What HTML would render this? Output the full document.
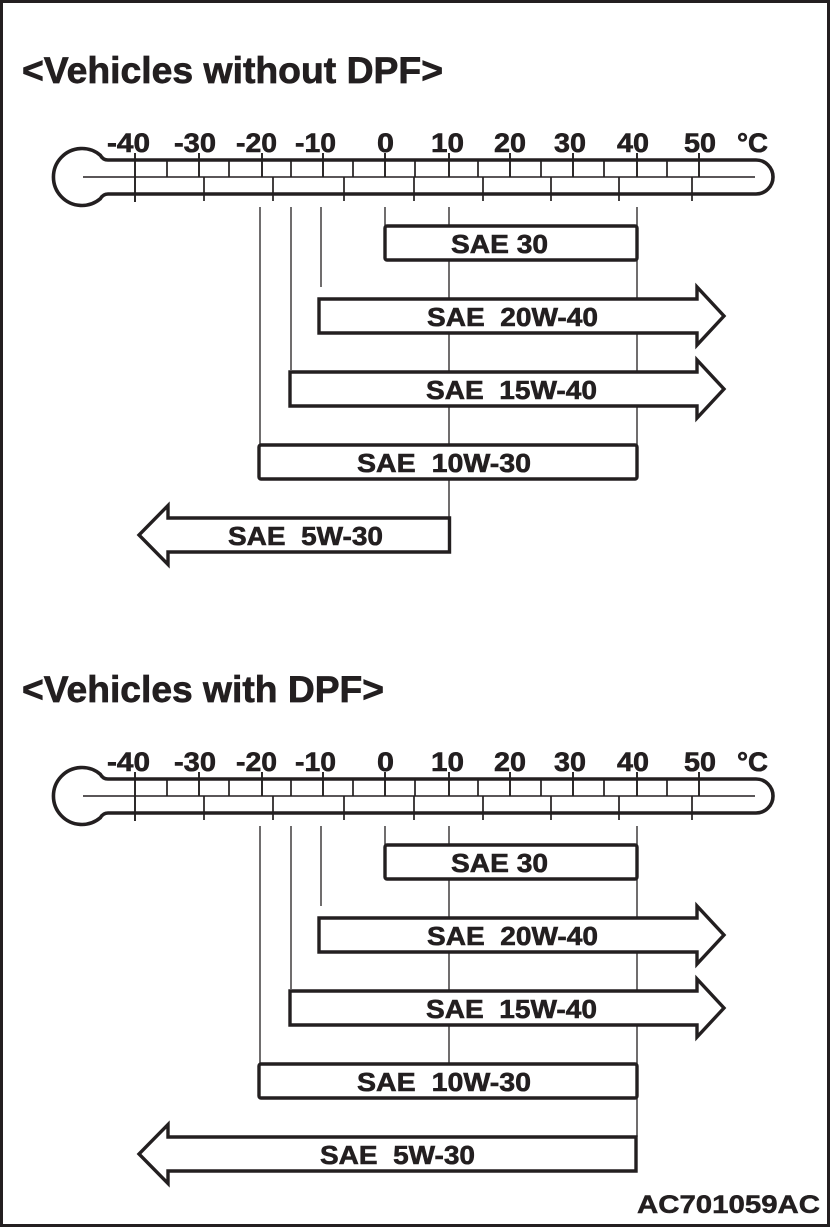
<!DOCTYPE html>
<html>
<head>
<meta charset="utf-8">
<style>
html,body{margin:0;padding:0;background:#fff;}
svg{display:block;}
text{white-space:pre;}
</style>
</head>
<body>
<svg width="831" height="1228" viewBox="0 0 831 1228" xmlns="http://www.w3.org/2000/svg" font-family="'Liberation Sans', Arial, sans-serif" font-weight="bold">
<rect x="0" y="0" width="831" height="1228" fill="#fff"/>
<rect x="1.5" y="1.5" width="827" height="1224" fill="none" stroke="#231f20" stroke-width="3"/>

<!-- ===== Section 1 ===== -->
<g>
  <text x="22" y="83" font-size="37" fill="#231f20" stroke="#231f20" stroke-width="0.7" textLength="421" lengthAdjust="spacingAndGlyphs">&lt;Vehicles without DPF&gt;</text>

  <!-- thermometer -->
  <path d="M108 160H756A17 17 0 0 1 756 194H108Q103 194 100.3 198.8A28.5 28.5 0 1 1 100.3 155.2Q103 160 108 160Z" fill="none" stroke="#231f20" stroke-width="3.6"/>
  <path d="M83 177H755" stroke="#231f20" stroke-width="1.4" fill="none"/>
  <path d="M135 153V202M199 153V177M262 153V177M323 153V177M385 153V177M449 153V177M510 153V177M573 153V177M637 153V177M699 153V177" stroke="#231f20" stroke-width="1.9" fill="none"/>
  <path d="M167 160V177M229 160V177M291 160V177M353 160V177M415 160V177M478 160V177M541 160V177M604 160V177M667 160V177" stroke="#231f20" stroke-width="1.7" fill="none"/>
  <path d="M204 177V201M273 177V201M344 177V201M414 177V201M483 177V201M551 177V201M619 177V201M692 177V201" stroke="#231f20" stroke-width="1.7" fill="none"/>

  <g font-size="27" fill="#231f20" stroke="#231f20" stroke-width="0.6">
    <text x="107" y="152" textLength="43" lengthAdjust="spacingAndGlyphs">-40</text>
    <text x="174" y="152" textLength="42" lengthAdjust="spacingAndGlyphs">-30</text>
    <text x="236" y="152" textLength="41" lengthAdjust="spacingAndGlyphs">-20</text>
    <text x="295" y="152" textLength="41" lengthAdjust="spacingAndGlyphs">-10</text>
    <text x="377" y="152" textLength="17" lengthAdjust="spacingAndGlyphs">0</text>
    <text x="431" y="152" textLength="33" lengthAdjust="spacingAndGlyphs">10</text>
    <text x="494" y="152" textLength="32" lengthAdjust="spacingAndGlyphs">20</text>
    <text x="554" y="152" textLength="32" lengthAdjust="spacingAndGlyphs">30</text>
    <text x="617" y="152" textLength="32" lengthAdjust="spacingAndGlyphs">40</text>
    <text x="684" y="152" textLength="32" lengthAdjust="spacingAndGlyphs">50</text>
    <text x="737" y="152" textLength="31" lengthAdjust="spacingAndGlyphs">°C</text>
  </g>

  <!-- guide lines -->
  <path d="M260 207V445M291 207V370M321 207V287M385 207V226M449 207V226M449 260V299M449 333V372M449 406V445M449 479V518M637 207V226M637 260V299M637 333V372M637 406V445" stroke="#231f20" stroke-width="1.3" fill="none"/>

  <!-- bars -->
  <g fill="#fff" stroke="#231f20" stroke-width="3.4" stroke-linejoin="round">
    <rect x="385" y="226" width="252" height="34" rx="2"/>
    <path d="M319 299H697V287L724 316L697 345V333H319Z" stroke-linejoin="miter"/>
    <path d="M290 372H697V360L724 389L697 418V406H290Z" stroke-linejoin="miter"/>
    <rect x="259" y="445" width="378" height="34" rx="2"/>
    <path d="M449.5 518V552H168V564.5L139 535L168 505.5V518Z" stroke-linejoin="miter"/>
  </g>

  <g font-size="26" fill="#231f20" stroke="#231f20" stroke-width="0.6">
    <text x="451" y="253" textLength="97" lengthAdjust="spacingAndGlyphs">SAE 30</text>
    <text x="427" y="326" textLength="171" lengthAdjust="spacingAndGlyphs">SAE  20W-40</text>
    <text x="426" y="399" textLength="171" lengthAdjust="spacingAndGlyphs">SAE  15W-40</text>
    <text x="357" y="472" textLength="174" lengthAdjust="spacingAndGlyphs">SAE  10W-30</text>
    <text x="228" y="545" textLength="155" lengthAdjust="spacingAndGlyphs">SAE  5W-30</text>
  </g>
</g>

<!-- ===== Section 2 ===== -->
<g transform="translate(0,619)">
  <text x="22" y="83" font-size="37" fill="#231f20" stroke="#231f20" stroke-width="0.7" textLength="362" lengthAdjust="spacingAndGlyphs">&lt;Vehicles with DPF&gt;</text>

  <path d="M108 160H756A17 17 0 0 1 756 194H108Q103 194 100.3 198.8A28.5 28.5 0 1 1 100.3 155.2Q103 160 108 160Z" fill="none" stroke="#231f20" stroke-width="3.6"/>
  <path d="M83 177H755" stroke="#231f20" stroke-width="1.4" fill="none"/>
  <path d="M135 153V202M199 153V177M262 153V177M323 153V177M385 153V177M449 153V177M510 153V177M573 153V177M637 153V177M699 153V177" stroke="#231f20" stroke-width="1.9" fill="none"/>
  <path d="M167 160V177M229 160V177M291 160V177M353 160V177M415 160V177M478 160V177M541 160V177M604 160V177M667 160V177" stroke="#231f20" stroke-width="1.7" fill="none"/>
  <path d="M204 177V201M273 177V201M344 177V201M414 177V201M483 177V201M551 177V201M619 177V201M692 177V201" stroke="#231f20" stroke-width="1.7" fill="none"/>

  <g font-size="27" fill="#231f20" stroke="#231f20" stroke-width="0.6">
    <text x="107" y="152" textLength="43" lengthAdjust="spacingAndGlyphs">-40</text>
    <text x="174" y="152" textLength="42" lengthAdjust="spacingAndGlyphs">-30</text>
    <text x="236" y="152" textLength="41" lengthAdjust="spacingAndGlyphs">-20</text>
    <text x="295" y="152" textLength="41" lengthAdjust="spacingAndGlyphs">-10</text>
    <text x="377" y="152" textLength="17" lengthAdjust="spacingAndGlyphs">0</text>
    <text x="431" y="152" textLength="33" lengthAdjust="spacingAndGlyphs">10</text>
    <text x="494" y="152" textLength="32" lengthAdjust="spacingAndGlyphs">20</text>
    <text x="554" y="152" textLength="32" lengthAdjust="spacingAndGlyphs">30</text>
    <text x="617" y="152" textLength="32" lengthAdjust="spacingAndGlyphs">40</text>
    <text x="684" y="152" textLength="32" lengthAdjust="spacingAndGlyphs">50</text>
    <text x="737" y="152" textLength="31" lengthAdjust="spacingAndGlyphs">°C</text>
  </g>

  <path d="M260 207V445M291 207V370M321 207V287M385 207V226M449 207V226M449 260V299M449 333V372M449 406V445M637 207V226M637 260V299M637 333V372M637 406V445M637 479V518" stroke="#231f20" stroke-width="1.3" fill="none"/>

  <g fill="#fff" stroke="#231f20" stroke-width="3.4" stroke-linejoin="round">
    <rect x="385" y="226" width="252" height="34" rx="2"/>
    <path d="M319 299H697V287L724 316L697 345V333H319Z" stroke-linejoin="miter"/>
    <path d="M290 372H697V360L724 389L697 418V406H290Z" stroke-linejoin="miter"/>
    <rect x="259" y="445" width="378" height="34" rx="2"/>
    <path d="M636 518V552H168V564.5L139 535L168 505.5V518Z" stroke-linejoin="miter"/>
  </g>

  <g font-size="26" fill="#231f20" stroke="#231f20" stroke-width="0.6">
    <text x="451" y="253" textLength="97" lengthAdjust="spacingAndGlyphs">SAE 30</text>
    <text x="427" y="326" textLength="171" lengthAdjust="spacingAndGlyphs">SAE  20W-40</text>
    <text x="426" y="399" textLength="171" lengthAdjust="spacingAndGlyphs">SAE  15W-40</text>
    <text x="357" y="472" textLength="174" lengthAdjust="spacingAndGlyphs">SAE  10W-30</text>
    <text x="320" y="545" textLength="155" lengthAdjust="spacingAndGlyphs">SAE  5W-30</text>
  </g>
</g>

<text x="637" y="1213" font-size="25" fill="#231f20" stroke="#231f20" stroke-width="0.5" textLength="183" lengthAdjust="spacingAndGlyphs">AC701059AC</text>
</svg>
</body>
</html>
